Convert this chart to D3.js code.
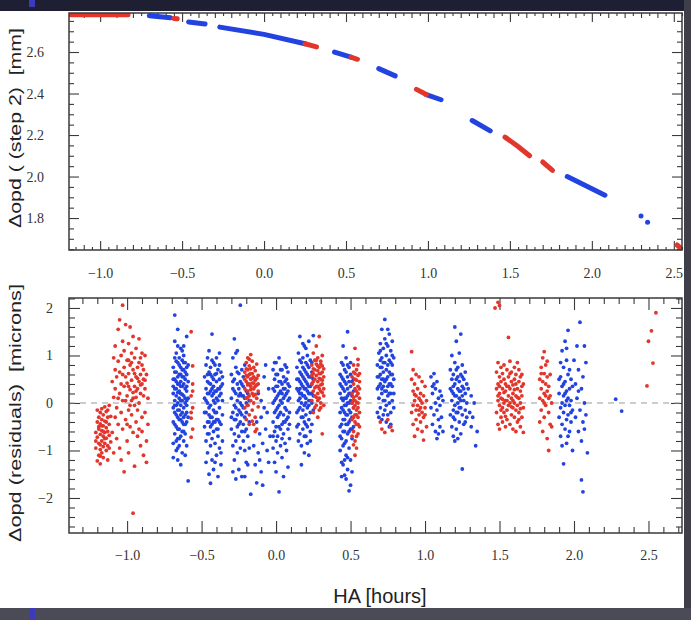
<!DOCTYPE html>
<html>
<head>
<meta charset="utf-8">
<script src="https://cdn.jsdelivr.net/npm/d3@7"></script>
<style>
  body { margin: 0; background: #fff; }
</style>
</head>
<body>
<div id="grafik"></div>
<script>
// ---- data ----
// top panel: opd (step 2) in mm vs HA in hours, each entry is one run of dense points
const opdRed = [
  [[-1.18, 2.78], [-0.83, 2.78]],
  [[-0.55, 2.762], [-0.53, 2.760]],
  [[0.25, 2.640], [0.32, 2.625]],
  [[0.53, 2.575], [0.57, 2.565]],
  [[0.93, 2.420], [0.99, 2.395]],
  [[1.47, 2.190], [1.55, 2.145], [1.62, 2.100]],
  [[1.70, 2.070], [1.76, 2.030]],
  [[2.52, 1.670], [2.55, 1.650]]
];
const opdBlue = [
  [[-0.70, 2.775], [-0.57, 2.765]],
  [[-0.46, 2.745], [-0.36, 2.735]],
  [[-0.27, 2.720], [0.00, 2.685], [0.25, 2.640]],
  [[0.43, 2.600], [0.53, 2.575]],
  [[0.70, 2.520], [0.80, 2.485]],
  [[0.99, 2.395], [1.08, 2.370]],
  [[1.27, 2.270], [1.38, 2.220]],
  [[1.85, 2.000], [2.08, 1.910]],
  [[2.30, 1.810], [2.30, 1.810]],
  [[2.34, 1.780], [2.34, 1.780]]
];

// bottom panel: residuals in microns, [HA, residual]
const resRedA = [[-1.21,-0.62],[-1.21,-0.95],[-1.20,-0.40],[-1.20,-1.22],[-1.20,-0.72],[-1.19,-0.30],[-1.19,-0.85],[-1.19,-1.10],[-1.19,-0.55],[-1.18,-0.20],[-1.18,-0.66],[-1.18,-0.98],[-1.18,-1.28],[-1.18,-0.44],[-1.17,-0.12],[-1.17,-0.58],[-1.17,-0.80],[-1.17,-1.05],[-1.17,-0.35],[-1.16,-0.25],[-1.16,-0.70],[-1.16,-0.92],[-1.16,-0.48],[-1.16,-1.15],[-1.15,-0.08],[-1.15,-0.62],[-1.15,-0.38],[-1.15,-0.85],[-1.14,-0.52],[-1.14,-0.18],[-1.14,-1.00],[-1.14,-0.74],[-1.13,-0.30],[-1.13,-0.60],[-1.13,-0.90],[-1.13,-1.20],[-1.12,-0.45],[-1.12,-0.05],[-1.12,-0.68],[-1.11,-0.28],[-1.11,-0.82],[-1.20,-0.15],[-1.19,-0.50],[-1.18,-0.88],[-1.17,-0.48],[-1.16,-0.60],[-1.15,-0.75],[-1.14,-0.40],[-1.13,-0.15],[-1.12,-0.95],[-1.21,-0.80],[-1.18,-1.12]];
const resRedB = [[-1.10,0.45],[-1.10,-0.62],[-1.09,0.12],[-1.09,-1.05],[-1.09,0.95],[-1.08,-0.30],[-1.08,0.30],[-1.08,1.20],[-1.07,-0.75],[-1.07,0.55],[-1.07,-0.10],[-1.06,0.88],[-1.06,-0.45],[-1.06,1.55],[-1.05,0.20],[-1.05,-0.95],[-1.05,0.65],[-1.04,1.00],[-1.04,-0.20],[-1.04,0.40],[-1.04,-1.20],[-1.03,2.06],[-1.03,1.30],[-1.03,-0.55],[-1.03,0.05],[-1.02,0.75],[-1.02,-1.45],[-1.02,0.35],[-1.02,1.10],[-1.01,-0.35],[-1.01,0.55],[-1.01,1.65],[-1.00,0.15],[-1.00,-0.80],[-1.00,0.90],[-1.00,0.42],[-0.99,1.25],[-0.99,-0.15],[-0.99,0.62],[-0.99,-1.05],[-0.98,0.28],[-0.98,1.60],[-0.98,-0.50],[-0.98,0.80],[-0.97,0.05],[-0.97,1.05],[-0.97,-0.25],[-0.97,0.48],[-0.96,-2.32],[-0.96,0.70],[-0.96,-0.62],[-0.96,0.22],[-0.96,1.40],[-0.95,-1.33],[-0.95,0.35],[-0.95,-0.05],[-0.95,0.95],[-0.94,0.55],[-0.94,-0.40],[-0.94,0.12],[-0.94,1.15],[-0.93,-0.70],[-0.93,0.30],[-0.93,0.75],[-0.93,-0.15],[-0.92,0.45],[-0.92,1.35],[-0.92,-0.55],[-0.92,0.00],[-0.91,0.60],[-0.91,-0.90],[-0.91,0.20],[-0.91,0.95],[-0.90,-0.30],[-0.90,0.40],[-0.90,1.05],[-0.90,-0.60],[-0.89,0.15],[-0.89,0.70],[-0.89,-1.10],[-0.89,0.50],[-0.88,-0.20],[-0.88,1.00],[-0.88,0.30],[-0.87,-0.80],[-0.87,0.60],[-0.87,-1.25],[-0.86,0.10],[-0.86,-0.45],[-1.08,0.70],[-1.06,0.10],[-1.01,0.05],[-0.99,0.35],[-0.97,0.85],[-0.95,0.62],[-0.93,0.52],[-0.91,0.38],[-0.98,-0.05],[-1.05,1.75],[-0.92,0.85],[-0.94,0.25],[-0.90,0.80],[-1.00,-0.45],[-0.96,0.10],[-0.99,0.90],[-1.03,0.60],[-0.88,0.48]];
const resRedC = [[-0.57,1.50],[-0.56,0.78],[-0.56,0.40],[-0.57,0.15],[-0.56,-0.10],[-0.57,-0.32],[-0.56,-0.55],[-0.57,-0.72],[-0.56,0.25],[-0.57,-0.20]];
const resRedF = [[-0.21,0.30],[-0.21,0.65],[-0.21,-0.10],[-0.20,0.45],[-0.20,0.85],[-0.20,0.10],[-0.20,-0.35],[-0.19,0.55],[-0.19,0.25],[-0.19,0.95],[-0.19,-0.05],[-0.19,0.70],[-0.18,0.40],[-0.18,0.15],[-0.18,0.78],[-0.18,-0.25],[-0.18,0.60],[-0.17,0.35],[-0.17,1.02],[-0.17,0.05],[-0.17,0.50],[-0.17,0.72],[-0.16,0.20],[-0.16,0.62],[-0.16,-0.15],[-0.16,0.42],[-0.16,0.88],[-0.15,0.30],[-0.15,0.55],[-0.15,0.00],[-0.15,0.75],[-0.15,-0.45],[-0.14,0.48],[-0.14,0.18],[-0.14,0.68],[-0.14,-0.30],[-0.13,0.38],[-0.13,0.82],[-0.13,0.10],[-0.13,-0.55],[-0.12,0.25],[-0.12,0.58],[-0.12,-0.08],[-0.20,0.58],[-0.19,0.38],[-0.18,0.92],[-0.17,0.28],[-0.16,0.52],[-0.15,0.15],[-0.14,0.35],[-0.21,0.50],[-0.18,-0.45],[-0.16,-0.38],[-0.14,-0.60],[-0.17,0.62],[-0.19,0.12],[-0.13,0.52],[-0.20,0.72],[-0.15,0.42],[-0.12,0.40]];
const resRedI = [[0.24,0.40],[0.24,0.80],[0.24,0.05],[0.25,0.62],[0.25,1.05],[0.25,0.25],[0.25,-0.20],[0.26,0.50],[0.26,0.90],[0.26,0.15],[0.26,0.70],[0.27,0.35],[0.27,1.20],[0.27,-0.05],[0.27,0.58],[0.27,0.82],[0.28,0.20],[0.28,0.45],[0.28,0.95],[0.28,-0.30],[0.28,0.68],[0.29,0.30],[0.29,0.75],[0.29,0.10],[0.29,1.40],[0.29,0.52],[0.30,0.62],[0.30,0.00],[0.30,0.88],[0.30,0.38],[0.30,-0.10],[0.31,0.48],[0.31,0.78],[0.31,0.22],[0.31,-0.65],[0.31,1.00],[0.32,0.55],[0.32,0.30],[0.32,0.72],[0.32,-0.05],[0.25,0.45],[0.26,0.32],[0.27,0.12],[0.28,0.78],[0.29,0.62],[0.30,0.25],[0.31,0.65],[0.32,0.15],[0.26,-0.10],[0.28,0.05],[0.30,0.82],[0.24,0.58],[0.27,0.90],[0.29,-0.15],[0.31,0.40],[0.25,0.72],[0.28,0.35],[0.30,0.50]];
const resRedJ = [[0.51,0.20],[0.51,-0.35],[0.51,0.55],[0.52,-0.10],[0.52,0.40],[0.52,-0.60],[0.52,0.80],[0.52,0.05],[0.53,-0.25],[0.53,0.30],[0.53,-0.80],[0.53,0.62],[0.53,-0.05],[0.53,1.15],[0.54,0.15],[0.54,-0.45],[0.54,0.48],[0.54,-0.15],[0.54,0.70],[0.54,-0.95],[0.55,0.00],[0.55,0.35],[0.55,-0.30],[0.55,0.58],[0.55,-0.65],[0.55,0.92],[0.56,0.10],[0.56,-0.20],[0.56,0.45],[0.56,-0.50],[0.51,-0.70],[0.52,0.12],[0.53,-0.40],[0.54,0.25],[0.55,-0.10],[0.56,0.30],[0.52,-0.30],[0.53,0.50],[0.54,-0.70],[0.55,0.20],[0.53,0.05],[0.52,0.65],[0.54,-0.25],[0.55,-0.45],[0.56,0.62],[0.51,0.00],[0.53,-1.10],[0.55,0.80],[0.54,0.02],[0.52,-0.88]];
const resRedK = [[0.70,-0.40],[0.71,-0.55],[0.73,-0.62],[0.75,-0.35],[0.77,-0.50],[0.78,-0.58]];
const resRedL = [[0.91,1.08],[0.91,0.50],[0.91,-0.20],[0.92,0.25],[0.92,-0.45],[0.92,0.70],[0.93,0.05],[0.93,-0.70],[0.93,0.40],[0.94,-0.15],[0.94,0.15],[0.94,-0.35],[0.95,0.30],[0.95,-0.05],[0.95,-0.55],[0.96,0.10],[0.96,-0.25],[0.96,0.55],[0.97,-0.10],[0.97,0.20],[0.97,-0.40],[0.98,0.00],[0.98,-0.20],[0.98,0.45],[0.99,-0.30],[0.99,0.15],[0.99,-0.78],[1.00,-0.10],[1.00,0.35],[1.01,-0.50],[1.01,0.05],[0.92,-0.05],[0.94,0.60],[0.96,-0.15],[0.98,-0.60],[1.00,-0.25],[0.93,0.18],[0.97,0.05]];
const resRedO = [[1.47,2.00],[1.49,2.12],[1.50,2.05],[1.48,0.30],[1.48,-0.20],[1.48,0.65],[1.49,0.05],[1.49,0.85],[1.49,-0.45],[1.49,0.40],[1.50,-0.05],[1.50,0.55],[1.50,0.20],[1.50,-0.55],[1.51,0.75],[1.51,0.10],[1.51,-0.30],[1.51,0.45],[1.52,-0.10],[1.52,0.30],[1.52,0.62],[1.52,-0.40],[1.53,0.00],[1.53,0.50],[1.53,-0.20],[1.53,0.80],[1.54,0.25],[1.54,-0.50],[1.54,0.40],[1.54,0.05],[1.55,0.70],[1.55,-0.15],[1.55,0.35],[1.55,-0.35],[1.56,1.38],[1.56,0.15],[1.56,-0.05],[1.56,0.55],[1.57,-0.45],[1.57,0.30],[1.57,0.00],[1.57,0.88],[1.58,0.45],[1.58,-0.25],[1.58,0.10],[1.58,0.65],[1.59,-0.10],[1.59,0.38],[1.59,-0.55],[1.59,0.20],[1.60,0.75],[1.60,0.00],[1.60,-0.30],[1.60,0.50],[1.61,0.15],[1.61,-0.15],[1.61,0.60],[1.61,-0.60],[1.62,0.30],[1.62,-0.05],[1.62,0.85],[1.62,-0.40],[1.63,0.45],[1.63,0.10],[1.63,-0.20],[1.63,0.70],[1.64,-0.50],[1.64,0.25],[1.64,0.00],[1.64,0.55],[1.65,-0.30],[1.65,0.35],[1.65,0.15],[1.66,-0.10],[1.66,0.40],[1.66,-0.62],[1.49,0.15],[1.51,-0.15],[1.53,0.22],[1.55,0.05],[1.57,0.62],[1.59,0.05],[1.61,0.40],[1.63,-0.35],[1.65,0.60],[1.52,0.08],[1.58,-0.08],[1.60,0.28],[1.54,-0.28],[1.56,0.35],[1.62,0.12],[1.50,0.35],[1.64,-0.12]];
const resRedP = [[1.77,0.50],[1.77,0.10],[1.77,-0.40],[1.78,0.75],[1.78,0.30],[1.78,-0.15],[1.79,0.95],[1.79,0.45],[1.79,0.05],[1.79,-0.60],[1.80,0.62],[1.80,0.20],[1.80,-0.30],[1.80,1.08],[1.81,0.40],[1.81,-0.05],[1.81,0.80],[1.82,0.25],[1.82,-0.75],[1.82,0.55],[1.83,0.10],[1.83,-0.20],[1.83,0.35],[1.83,-1.00],[1.84,0.60],[1.84,-0.45],[1.84,0.15],[1.85,0.00],[1.85,-0.50],[1.78,0.62],[1.81,0.15],[1.82,0.88],[1.80,0.00]];
const resRedS = [[2.49,0.36],[2.50,1.30],[2.52,1.52],[2.53,0.84],[2.55,1.90]];

const resBlueC = [[-0.69,0.20],[-0.69,-0.40],[-0.69,0.75],[-0.69,-0.85],[-0.68,0.05],[-0.68,0.50],[-0.68,-0.20],[-0.68,0.95],[-0.68,-0.65],[-0.68,1.30],[-0.67,0.30],[-0.67,-0.05],[-0.67,0.65],[-0.67,-0.50],[-0.67,1.05],[-0.67,-1.00],[-0.67,0.15],[-0.66,-0.30],[-0.66,0.40],[-0.66,0.85],[-0.66,-0.75],[-0.66,0.00],[-0.66,1.55],[-0.66,-1.20],[-0.65,0.25],[-0.65,-0.15],[-0.65,0.60],[-0.65,-0.55],[-0.65,0.95],[-0.65,0.10],[-0.65,-0.90],[-0.64,0.45],[-0.64,-0.35],[-0.64,0.75],[-0.64,-0.05],[-0.64,1.15],[-0.64,-0.70],[-0.64,0.20],[-0.63,-0.20],[-0.63,0.55],[-0.63,0.05],[-0.63,-0.60],[-0.63,0.90],[-0.63,-1.05],[-0.63,0.35],[-0.62,0.15],[-0.62,-0.45],[-0.62,0.70],[-0.62,-0.10],[-0.62,1.00],[-0.62,-0.80],[-0.62,0.40],[-0.61,-0.25],[-0.61,0.50],[-0.61,0.00],[-0.61,-0.65],[-0.61,0.85],[-0.61,-1.10],[-0.61,2.23],[-0.60,0.25],[-0.60,-0.40],[-0.60,0.60],[-0.60,-0.05],[-0.60,1.40],[-0.60,-0.90],[-0.59,0.10],[-0.59,-0.30],[-0.59,0.45],[-0.59,-1.64],[-0.59,0.80],[-0.69,0.50],[-0.68,-0.45],[-0.67,0.88],[-0.66,0.22],[-0.65,-0.35],[-0.64,0.60],[-0.63,0.18],[-0.62,-0.30],[-0.61,0.30],[-0.60,0.05],[-0.68,0.30],[-0.66,-0.55],[-0.64,-0.25],[-0.62,0.55],[-0.60,-0.20],[-0.67,-0.25],[-0.65,0.40],[-0.63,-0.40],[-0.61,0.65],[-0.69,-0.10],[-0.68,1.85],[-0.66,1.20],[-0.64,-1.30],[-0.62,1.20],[-0.65,0.80],[-0.63,0.70],[-0.67,0.45],[-0.61,-0.45],[-0.69,-1.15],[-0.66,-0.95],[-0.64,0.05],[-0.62,0.85],[-0.60,0.35],[-0.68,0.65],[-0.66,0.55],[-0.63,1.10],[-0.65,-0.75],[-0.67,-0.80],[-0.61,0.10],[-0.69,0.35],[-0.64,0.35],[-0.62,-0.60],[-0.60,0.75],[-0.66,-0.15],[-0.68,-0.05]];
const resBlueD = [[-0.48,0.10],[-0.48,-0.50],[-0.48,0.55],[-0.47,-0.20],[-0.47,0.30],[-0.47,-0.80],[-0.47,0.80],[-0.46,0.00],[-0.46,-0.40],[-0.46,0.45],[-0.46,-1.05],[-0.46,0.95],[-0.45,0.20],[-0.45,-0.25],[-0.45,0.65],[-0.45,-0.65],[-0.45,1.10],[-0.44,-0.05],[-0.44,0.40],[-0.44,-0.50],[-0.44,0.75],[-0.44,-1.69],[-0.44,-0.90],[-0.43,0.15],[-0.43,-0.30],[-0.43,0.55],[-0.43,-0.75],[-0.43,1.45],[-0.43,-1.20],[-0.42,0.05],[-0.42,0.35],[-0.42,-0.15],[-0.42,0.85],[-0.42,-0.60],[-0.42,-1.40],[-0.41,0.25],[-0.41,-0.40],[-0.41,0.60],[-0.41,-0.85],[-0.41,0.00],[-0.40,-0.20],[-0.40,0.45],[-0.40,-0.55],[-0.40,0.95],[-0.40,-1.10],[-0.40,0.10],[-0.39,0.30],[-0.39,-0.35],[-0.39,0.70],[-0.39,-0.70],[-0.39,-1.55],[-0.38,0.15],[-0.38,-0.10],[-0.38,0.50],[-0.38,-0.95],[-0.38,1.05],[-0.37,0.20],[-0.37,-0.45],[-0.37,0.65],[-0.37,-1.30],[-0.36,0.05],[-0.36,-0.25],[-0.36,0.40],[-0.36,-0.80],[-0.47,0.05],[-0.46,0.60],[-0.45,-0.10],[-0.44,0.25],[-0.43,-0.45],[-0.42,0.50],[-0.41,-0.20],[-0.40,0.25],[-0.39,0.05],[-0.38,-0.40],[-0.37,0.35],[-0.48,-0.20],[-0.46,-0.65],[-0.44,-0.30],[-0.42,-0.40],[-0.40,-0.35],[-0.38,0.30],[-0.45,0.42],[-0.43,0.90],[-0.41,0.80],[-0.39,-0.55],[-0.47,-1.25],[-0.45,-1.50],[-0.41,-1.25],[-0.37,-1.05],[-0.44,0.60],[-0.42,0.20],[-0.40,0.62],[-0.46,0.20],[-0.38,0.80],[-0.36,0.55],[-0.43,0.30],[-0.45,-0.40]];
const resBlueE = [[-0.30,0.10],[-0.30,-0.55],[-0.30,0.60],[-0.29,-0.20],[-0.29,0.95],[-0.29,-0.90],[-0.29,0.30],[-0.28,-0.05],[-0.28,-0.65],[-0.28,0.50],[-0.28,1.35],[-0.28,-1.20],[-0.27,0.20],[-0.27,-0.35],[-0.27,0.75],[-0.27,-0.80],[-0.26,0.05],[-0.26,-0.50],[-0.26,0.40],[-0.26,-1.05],[-0.26,1.10],[-0.25,-0.15],[-0.25,0.30],[-0.25,-0.70],[-0.25,0.62],[-0.25,-1.40],[-0.24,0.00],[-0.24,-0.40],[-0.24,0.45],[-0.24,2.06],[-0.24,-0.95],[-0.23,0.15],[-0.23,-0.25],[-0.23,0.70],[-0.23,-0.60],[-0.23,-1.55],[-0.22,-0.10],[-0.22,0.35],[-0.22,-0.80],[-0.22,0.55],[-0.21,-0.30],[-0.21,0.10],[-0.21,-1.00],[-0.21,0.80],[-0.20,-0.20],[-0.20,-0.55],[-0.20,0.25],[-0.20,-1.25],[-0.19,-0.05],[-0.19,-0.70],[-0.19,0.40],[-0.18,-0.40],[-0.18,0.05],[-0.18,-0.95],[-0.17,-1.92],[-0.29,0.45],[-0.27,-0.10],[-0.25,0.15],[-0.23,-0.05],[-0.21,-0.60],[-0.19,0.20],[-0.28,0.25],[-0.26,-0.25],[-0.24,-0.20],[-0.22,0.15],[-0.20,0.00],[-0.30,-0.30],[-0.27,1.05],[-0.25,-0.45],[-0.23,0.40],[-0.28,-0.35],[-0.26,0.65],[-0.24,0.20],[-0.22,-0.45],[-0.29,-1.45],[-0.21,-1.55],[-0.19,-1.30],[-0.27,-1.60],[-0.15,-0.90],[-0.14,-1.30],[-0.13,-1.68],[-0.13,-0.40],[-0.12,-1.05],[-0.12,0.20],[-0.11,-0.65],[-0.11,-1.20],[-0.10,0.05],[-0.10,-0.30],[-0.09,-1.73],[-0.09,-0.85],[-0.08,0.55],[-0.08,-0.10],[-0.07,-0.55],[-0.07,0.80],[-0.06,-1.00],[-0.06,-0.20],[-0.05,0.30],[-0.04,-0.70],[-0.10,-1.45],[-0.05,-1.25]];
const resBlueG = [[-0.02,0.30],[-0.02,-0.40],[-0.02,0.70],[-0.02,-0.95],[-0.01,0.05],[-0.01,-0.60],[-0.01,0.50],[-0.01,-1.25],[0.00,-0.15],[0.00,0.35],[0.00,-0.80],[0.00,0.85],[0.00,-1.45],[0.01,0.15],[0.01,-0.30],[0.01,0.60],[0.01,-0.70],[0.01,-1.05],[0.02,-0.05],[0.02,0.45],[0.02,-0.50],[0.02,0.95],[0.02,-1.87],[0.03,0.25],[0.03,-0.20],[0.03,-0.90],[0.03,0.70],[0.04,0.00],[0.04,-0.45],[0.04,0.40],[0.04,-1.15],[0.05,-0.25],[0.05,0.55],[0.05,-0.65],[0.05,0.10],[0.06,0.30],[0.06,-0.10],[0.06,-0.85],[0.06,0.80],[0.07,-0.35],[0.07,0.20],[0.07,-1.00],[0.07,0.50],[0.08,0.05],[0.08,-0.55],[0.08,-1.35],[0.08,0.65],[0.09,-0.20],[0.09,0.35],[0.09,-0.75],[-0.02,0.00],[-0.01,0.25],[0.00,0.10],[0.01,-0.10],[0.02,0.20],[0.03,-0.55],[0.04,0.70],[0.05,-0.40],[0.06,0.45],[0.07,-0.15],[0.08,0.40],[0.09,0.10],[0.00,-0.50],[0.02,-0.25],[0.04,-0.75],[0.06,0.15],[0.08,-0.30],[-0.01,-0.20],[0.03,0.45],[0.05,0.30],[0.07,0.75],[0.01,0.35],[-0.02,-0.70],[0.09,-0.45],[0.03,0.05],[0.06,-0.40],[0.04,0.20],[0.00,0.60],[0.08,0.25],[0.05,-1.55],[-0.01,0.85]];
const resBlueH = [[0.14,0.30],[0.14,-0.20],[0.14,0.75],[0.15,0.05],[0.15,0.50],[0.15,-0.45],[0.15,1.05],[0.16,0.20],[0.16,-0.10],[0.16,0.65],[0.16,-0.65],[0.16,1.40],[0.17,0.40],[0.17,0.00],[0.17,0.85],[0.17,-0.30],[0.17,-0.90],[0.18,0.15],[0.18,0.55],[0.18,-0.15],[0.18,0.95],[0.18,-0.55],[0.19,0.30],[0.19,-0.05],[0.19,0.70],[0.19,-0.40],[0.19,1.20],[0.19,-1.05],[0.20,0.10],[0.20,0.45],[0.20,-0.25],[0.20,0.85],[0.20,-0.70],[0.21,0.25],[0.21,0.60],[0.21,-0.10],[0.21,1.00],[0.21,-0.50],[0.22,0.35],[0.22,0.05],[0.22,0.75],[0.22,-0.35],[0.22,1.30],[0.23,0.20],[0.23,0.55],[0.23,-0.20],[0.23,0.90],[0.23,-0.80],[0.24,0.40],[0.24,0.00],[0.24,0.65],[0.24,-0.45],[0.25,0.15],[0.25,-0.15],[0.25,0.50],[0.14,0.50],[0.15,0.25],[0.16,0.45],[0.17,0.20],[0.18,0.35],[0.19,0.50],[0.20,0.30],[0.21,0.40],[0.22,0.55],[0.23,0.35],[0.24,0.20],[0.15,-0.15],[0.17,0.60],[0.19,0.15],[0.21,0.80],[0.23,0.05],[0.16,0.90],[0.18,-0.30],[0.20,0.65],[0.22,-0.05],[0.24,0.85],[0.14,-0.50],[0.18,0.75],[0.20,-0.45],[0.22,0.20],[0.16,0.10],[0.20,1.15],[0.17,-1.30],[0.19,-0.70],[0.21,-0.85],[0.15,-0.80],[0.23,-0.60],[0.25,1.42],[0.18,1.25],[0.22,-1.10],[0.16,0.30],[0.24,0.55],[0.20,0.00]];
const resBlueJ = [[0.43,0.20],[0.43,-0.50],[0.43,0.60],[0.43,-1.00],[0.44,-0.10],[0.44,0.35],[0.44,-0.75],[0.44,0.85],[0.44,-1.55],[0.45,0.05],[0.45,-0.35],[0.45,0.50],[0.45,-0.90],[0.45,1.20],[0.45,-1.30],[0.46,0.25],[0.46,-0.20],[0.46,0.70],[0.46,-0.60],[0.46,-1.52],[0.46,-0.05],[0.47,0.40],[0.47,-0.45],[0.47,0.10],[0.47,-1.10],[0.47,0.95],[0.47,-0.80],[0.48,-0.25],[0.48,0.55],[0.48,0.00],[0.48,-0.65],[0.48,1.50],[0.48,-1.40],[0.49,0.20],[0.49,-0.15],[0.49,0.75],[0.49,-0.95],[0.49,-0.40],[0.50,0.35],[0.50,-0.55],[0.50,0.05],[0.50,-1.73],[0.50,0.60],[0.50,-1.20],[0.51,-0.30],[0.51,0.15],[0.51,-0.75],[0.51,0.45],[0.52,-0.10],[0.52,-0.50],[0.52,0.25],[0.43,-0.20],[0.44,0.10],[0.45,-0.15],[0.46,0.45],[0.47,-0.25],[0.48,0.30],[0.49,-0.60],[0.50,-0.20],[0.51,0.00],[0.44,-0.45],[0.46,-0.35],[0.48,-0.45],[0.50,0.20],[0.45,0.30],[0.47,0.65],[0.49,0.45],[0.51,-0.55],[0.43,-0.70],[0.45,-0.60],[0.47,-0.05],[0.49,0.00],[0.44,0.55],[0.46,0.10],[0.48,0.15],[0.50,-0.35],[0.52,0.50],[0.46,-1.20],[0.48,-1.15],[0.44,-1.25],[0.51,-1.45],[0.47,-1.60],[0.49,-1.85],[0.45,0.80],[0.43,0.40],[0.50,0.85],[0.46,-0.85],[0.48,0.80]];
const resBlueK = [[0.68,0.30],[0.68,0.80],[0.68,-0.20],[0.69,0.55],[0.69,1.05],[0.69,0.10],[0.70,0.40],[0.70,1.25],[0.70,-0.10],[0.70,0.75],[0.71,0.20],[0.71,0.95],[0.71,0.50],[0.71,-0.35],[0.72,0.65],[0.72,0.05],[0.72,1.15],[0.72,0.35],[0.73,0.85],[0.73,-0.15],[0.73,0.45],[0.73,1.35],[0.74,0.25],[0.74,0.70],[0.74,-0.05],[0.74,1.00],[0.75,0.55],[0.75,0.15],[0.75,1.20],[0.75,-0.25],[0.76,0.40],[0.76,0.90],[0.76,0.00],[0.76,1.45],[0.77,0.60],[0.77,0.20],[0.77,1.10],[0.77,-0.45],[0.78,0.35],[0.78,0.80],[0.78,0.05],[0.78,1.30],[0.79,0.50],[0.79,-0.10],[0.79,0.95],[0.69,0.35],[0.70,0.60],[0.71,0.75],[0.72,0.50],[0.73,0.25],[0.74,0.50],[0.75,0.80],[0.76,0.65],[0.77,0.40],[0.78,0.60],[0.69,-0.30],[0.71,0.30],[0.73,0.05],[0.75,0.35],[0.77,0.85],[0.79,0.20],[0.70,0.90],[0.72,0.85],[0.74,1.25],[0.76,0.20],[0.78,1.00],[0.71,1.55],[0.73,1.76],[0.75,1.55],[0.77,-0.20],[0.68,0.55],[0.74,-0.40],[0.72,-0.25],[0.76,-0.50],[0.70,1.10]];
const resBlueM = [[1.04,0.55],[1.04,-0.10],[1.05,0.20],[1.05,-0.45],[1.06,0.40],[1.06,-0.25],[1.06,0.62],[1.07,0.00],[1.07,-0.60],[1.07,0.30],[1.08,-0.15],[1.08,0.45],[1.08,-0.75],[1.09,0.10],[1.09,-0.35],[1.10,0.25],[1.10,-0.50],[1.10,-0.05],[1.11,0.15],[1.11,-0.30],[1.12,-0.60],[1.12,0.05],[1.05,0.35],[1.09,-0.65]];
const resBlueN = [[1.17,0.30],[1.17,-0.25],[1.17,0.70],[1.18,0.05],[1.18,0.50],[1.18,-0.50],[1.18,1.00],[1.19,0.20],[1.19,-0.15],[1.19,0.60],[1.19,-0.70],[1.20,0.40],[1.20,-0.05],[1.20,0.85],[1.20,-0.35],[1.20,1.60],[1.21,0.15],[1.21,0.50],[1.21,-0.55],[1.21,1.30],[1.22,-0.20],[1.22,0.30],[1.22,0.75],[1.22,0.00],[1.23,0.45],[1.23,-0.40],[1.23,0.10],[1.23,1.05],[1.24,-0.10],[1.24,0.60],[1.24,0.25],[1.24,-0.65],[1.25,0.35],[1.25,-1.39],[1.25,-0.25],[1.25,0.80],[1.26,0.05],[1.26,0.50],[1.26,-0.45],[1.27,0.20],[1.27,-0.15],[1.27,0.65],[1.28,0.40],[1.28,-0.30],[1.28,0.00],[1.18,0.25],[1.19,0.35],[1.20,0.15],[1.21,-0.20],[1.22,0.55],[1.23,0.25],[1.24,0.05],[1.25,0.15],[1.26,0.30],[1.27,-0.40],[1.19,-0.30],[1.21,0.70],[1.23,-0.10],[1.25,0.55],[1.22,-0.75],[1.20,-0.80],[1.24,1.45],[1.29,0.30],[1.30,-0.20],[1.31,0.15],[1.31,-0.50],[1.32,-0.30],[1.33,0.00],[1.34,-0.90],[1.35,-0.60]];
const resBlueQ = [[1.90,0.20],[1.90,-0.30],[1.91,0.55],[1.91,-0.10],[1.91,-0.70],[1.92,0.35],[1.92,0.00],[1.92,-0.45],[1.92,1.10],[1.93,0.75],[1.93,-0.20],[1.93,-1.28],[1.93,0.15],[1.94,0.45],[1.94,-0.55],[1.94,1.30],[1.94,-0.05],[1.95,0.25],[1.95,-0.35],[1.95,0.90],[1.95,-0.85],[1.96,0.10],[1.96,0.60],[1.96,-0.25],[1.96,1.53],[1.97,-0.60],[1.97,0.30],[1.97,-0.05],[1.98,0.50],[1.98,-0.40],[1.98,0.05],[1.99,-0.15],[1.99,0.35],[1.99,-1.00],[1.91,0.85],[1.93,0.40],[1.95,0.05],[1.97,0.70],[1.92,-0.90],[1.94,0.20],[1.96,-0.70],[1.98,-0.20],[1.90,0.50],[1.95,1.15]];
const resBlueR = [[2.00,0.90],[2.01,0.40],[2.01,-0.30],[2.02,1.20],[2.02,0.10],[2.03,-0.60],[2.03,0.70],[2.04,-0.15],[2.04,1.70],[2.05,0.30],[2.05,-1.62],[2.05,-0.80],[2.06,-1.87],[2.06,0.55],[2.06,-0.40],[2.07,1.20],[2.07,0.00],[2.08,-0.25],[2.08,0.85],[2.09,-1.05],[2.03,0.25],[2.07,-0.55],[2.28,0.08],[2.32,-0.17]];

const haTicks = [-1.0, -0.5, 0.0, 0.5, 1.0, 1.5, 2.0, 2.5];
const opdTicks = [1.8, 2.0, 2.2, 2.4, 2.6];
const resTicks = [-2, -1, 0, 1, 2];

const resRed = [].concat(resRedA, resRedB, resRedC, resRedF, resRedI, resRedJ, resRedK, resRedL, resRedO, resRedP, resRedS);
const resBlue = [].concat(resBlueC, resBlueD, resBlueE, resBlueG, resBlueH, resBlueJ, resBlueK, resBlueM, resBlueN, resBlueQ, resBlueR);

// ---- drawing ----
const W = 691, H = 620;
const red = "#e2362c", blue = "#2343e0", ink = "#3a3a3a";

const svg = d3.select("#grafik").append("svg")
  .attr("width", W).attr("height", H);

// slide around the figure
svg.append("rect").attr("width", W).attr("height", H).attr("fill", "#fff");
svg.append("rect").attr("x", 0).attr("y", 0).attr("width", W).attr("height", 11).attr("fill", "#1f1f33");
svg.append("rect").attr("x", 684).attr("y", 0).attr("width", 7).attr("height", H).attr("fill", "#3f3f4b");
svg.append("rect").attr("x", 0).attr("y", 608).attr("width", W).attr("height", 12).attr("fill", "#4b4b57");
svg.append("rect").attr("x", 29).attr("y", 0).attr("width", 6).attr("height", 7).attr("fill", "#3b3bbb");
svg.append("rect").attr("x", 29).attr("y", 608).attr("width", 6).attr("height", 12).attr("fill", "#3b3bbb");

const panelA = {x0: 69, x1: 682, y0: 13, y1: 250};
const panelB = {x0: 69, x1: 682, y0: 298, y1: 533};

const xA = d3.scaleLinear().domain([-1.19, 2.55]).range([panelA.x0, panelA.x1]);
const yA = d3.scaleLinear().domain([1.646, 2.788]).range([panelA.y1, panelA.y0]);
const xB = d3.scaleLinear().domain([-1.39, 2.725]).range([panelB.x0, panelB.x1]);
const yB = d3.scaleLinear().domain([-2.737, 2.21]).range([panelB.y1, panelB.y0]);

function clip(id, p) {
  svg.append("clipPath").attr("id", id).append("rect")
    .attr("x", p.x0).attr("y", p.y0).attr("width", p.x1 - p.x0).attr("height", p.y1 - p.y0);
}
clip("clipA", panelA);
clip("clipB", panelB);

// ticks helper, all ticks point inward
function tickSet(p, orient, scale, values, size, fmt, pad) {
  const maker = {bottom: d3.axisBottom, top: d3.axisTop, left: d3.axisLeft, right: d3.axisRight}[orient];
  const axis = maker(scale).tickValues(values).tickSizeInner(-size).tickSizeOuter(0)
    .tickPadding(pad || 0).tickFormat(fmt || "");
  const pos = {bottom: `translate(0,${p.y1})`, top: `translate(0,${p.y0})`,
               left: `translate(${p.x0},0)`, right: `translate(${p.x1},0)`}[orient];
  const g = svg.append("g").attr("transform", pos).call(axis);
  g.select(".domain").remove();
  g.selectAll("line").attr("stroke", ink).attr("stroke-width", 1.1);
  g.selectAll("text").attr("font-family", "'Liberation Serif', 'Times New Roman', serif")
    .attr("font-size", 14).attr("fill", "#333");
  return g;
}
const inside = (scale) => (v) => v >= scale.domain()[0] - 1e-9 && v <= scale.domain()[1] + 1e-9;
const fmt1 = d3.format(".1f");

// panel A ticks
const aXmed = d3.range(-23, 52).map(i => i * 0.05).filter(inside(xA)).filter(v => Math.abs(v * 10 - Math.round(v * 10)) < 1e-6 && Math.abs(v * 2 - Math.round(v * 2)) > 1e-6);
const aXmin = d3.range(-23, 52).map(i => i * 0.05).filter(inside(xA)).filter(v => Math.abs(v * 10 - Math.round(v * 10)) > 1e-6);
const aYmin = d3.range(33, 56).map(i => i * 0.05).filter(inside(yA)).filter(v => Math.abs(v * 5 - Math.round(v * 5)) > 1e-6);
["bottom", "top"].forEach(o => {
  tickSet(panelA, o, xA, aXmin, 3);
  tickSet(panelA, o, xA, aXmed, 5);
  tickSet(panelA, o, xA, haTicks.filter(inside(xA)), 9, o === "bottom" ? fmt1 : "", 18);
});
["left", "right"].forEach(o => {
  tickSet(panelA, o, yA, aYmin, 5);
  tickSet(panelA, o, yA, opdTicks, 10, o === "left" ? fmt1 : "", 25);
});

// panel B ticks
const bXmin = d3.range(-13, 28).map(i => i * 0.1).filter(inside(xB)).filter(v => Math.abs(v * 2 - Math.round(v * 2)) > 1e-6);
const bYmin = d3.range(-13, 12).map(i => i * 0.2).filter(inside(yB)).filter(v => Math.abs(v - Math.round(v)) > 1e-6);
["bottom", "top"].forEach(o => {
  tickSet(panelB, o, xB, bXmin, 6);
  tickSet(panelB, o, xB, haTicks, 12, o === "bottom" ? fmt1 : "", 17);
});
["left", "right"].forEach(o => {
  tickSet(panelB, o, yB, bYmin, 6);
  tickSet(panelB, o, yB, resTicks, 11, o === "left" ? d3.format("d") : "", 16);
});

// panel A curve pieces
const lineA = d3.line().x(d => xA(d[0])).y(d => yA(d[1]));
const gA = svg.append("g").attr("clip-path", "url(#clipA)");
[[opdBlue, blue], [opdRed, red]].forEach(([runs, c]) => {
  gA.selectAll(null).data(runs).enter().append("path")
    .attr("d", lineA).attr("fill", "none").attr("stroke", c)
    .attr("stroke-width", 5).attr("stroke-linecap", "round");
});

// panel B zero line and residuals
const gB = svg.append("g").attr("clip-path", "url(#clipB)");
gB.append("line")
  .attr("x1", panelB.x0).attr("x2", panelB.x1)
  .attr("y1", yB(0)).attr("y2", yB(0))
  .attr("stroke", "#999").attr("stroke-width", 1.2).attr("stroke-dasharray", "6,5");
[[resBlue, blue], [resRed, red]].forEach(([pts, c]) => {
  gB.selectAll(null).data(pts).enter().append("circle")
    .attr("cx", d => xB(d[0])).attr("cy", d => yB(d[1]))
    .attr("r", 1.9).attr("fill", c);
});

// frames
[panelA, panelB].forEach(p => {
  svg.append("rect").attr("x", p.x0).attr("y", p.y0)
    .attr("width", p.x1 - p.x0).attr("height", p.y1 - p.y0)
    .attr("fill", "none").attr("stroke", ink).attr("stroke-width", 1.5);
});

// axis titles
const sans = "'Liberation Sans', Arial, Helvetica, sans-serif";
svg.append("text")
  .attr("transform", "translate(21,128) rotate(-90)")
  .attr("text-anchor", "middle").attr("font-family", sans).attr("font-size", 17)
  .attr("fill", "#222").style("white-space", "pre")
  .attr("textLength", 200).attr("lengthAdjust", "spacingAndGlyphs")
  .text("Δopd ( (step 2)  [mm]");
svg.append("text")
  .attr("transform", "translate(21,413) rotate(-90)")
  .attr("text-anchor", "middle").attr("font-family", sans).attr("font-size", 17)
  .attr("fill", "#222").style("white-space", "pre")
  .attr("textLength", 258).attr("lengthAdjust", "spacingAndGlyphs")
  .text("Δopd (residuals)  [microns]");
svg.append("text")
  .attr("x", 380).attr("y", 603)
  .attr("text-anchor", "middle").attr("font-family", sans).attr("font-size", 20)
  .attr("fill", "#222")
  .text("HA [hours]");
</script>
</body>
</html>
